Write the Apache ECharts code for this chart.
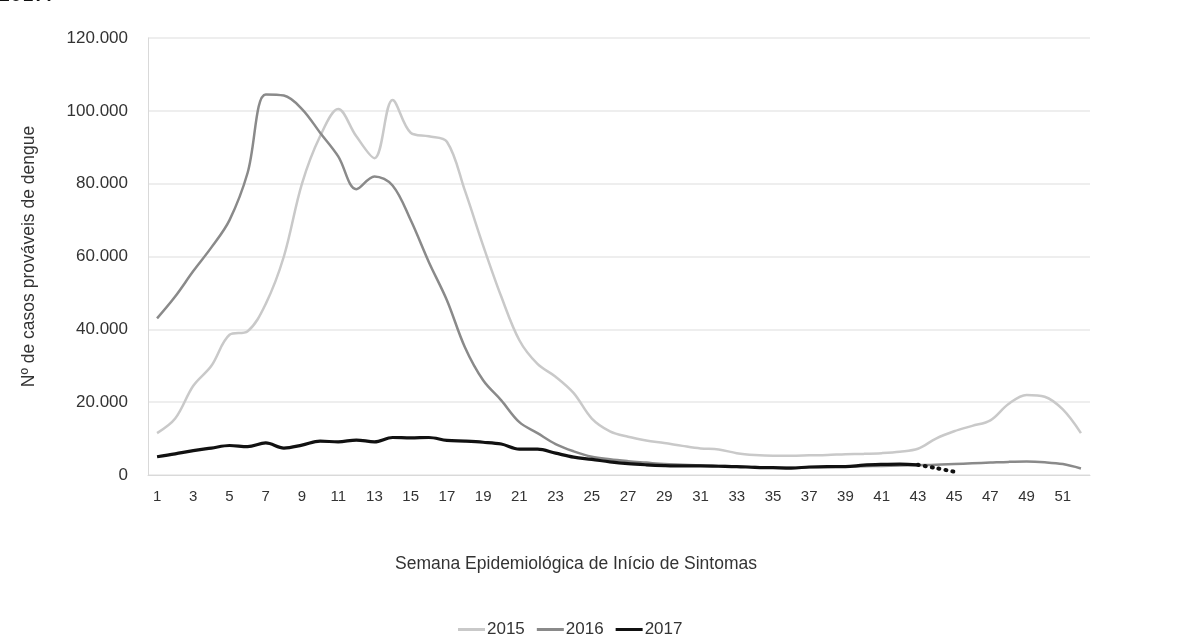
<!DOCTYPE html>
<html>
<head>
<meta charset="utf-8">
<script src="https://cdn.jsdelivr.net/npm/echarts@6/dist/echarts.min.js"></script>
<style>
html,body{margin:0;padding:0;background:#fff;}
#chart{width:1198px;height:637px;}
</style>
</head>
<body>
<div id="chart"></div>
<script>
const weeks = Array.from({length: 52}, (_, i) => String(i + 1));

const s2015 = [11500,15500,24500,30000,38500,39500,47000,60000,80000,93000,
  100500,93000,87000,103000,94000,93000,91500,78000,63000,49000,
  37000,30500,27000,22500,15500,12000,10500,9500,8800,8000,
  7300,7000,6000,5500,5300,5300,5400,5500,5700,5800,
  6000,6400,7200,10000,12000,13500,15000,19500,22000,21500,
  18000,11500];

const s2016 = [43000,49000,56000,62500,70000,83000,104500,104200,100500,94000,
  87500,78500,82000,79500,70000,58500,48000,35000,26000,20500,
  14500,11500,8500,6500,5000,4300,3800,3400,3000,2800,
  2600,2500,2400,2200,2000,2000,2100,2200,2300,2400,
  2500,2600,2700,2800,3000,3200,3400,3600,3700,3500,
  3000,1800];

const s2017 = [5000,5800,6700,7400,8100,7800,8800,7400,8200,9300,
  9100,9600,9100,10300,10200,10300,9500,9300,9000,8500,
  7100,7100,6000,4900,4300,3600,3100,2800,2600,2500,
  2500,2400,2300,2100,2000,1900,2200,2300,2300,2700,
  2900,3000,2800];

// dotted continuation of 2017 (weeks 43-45)
const s2017dot = weeks.map(() => null);
const dotPart = [[42, 2800], [43, 1900], [44, 900]];
dotPart.forEach(([i, v]) => { s2017dot[i] = v; });

const seriesNames = ['2015', '2016', '2017'];
const colors = ['#c9c9c9', '#8a8a8a', '#111111'];

const chart = echarts.init(document.getElementById('chart'), null, {renderer: 'canvas'});
const font = 'Liberation Sans, Arial, sans-serif';

chart.setOption({
  backgroundColor: '#ffffff',
  animation: false,
  textStyle: {fontFamily: font},
  graphic: [{
    type: 'text', left: -2, top: -17,
    style: {text: '2017.', font: 'bold 24px "Liberation Serif", serif', fill: '#111'}
  }],
  grid: {left: 148, right: 108, top: 38, bottom: 162, containLabel: false},
  legend: {
    data: seriesNames.map(n => ({name: n, icon: 'rect'})),
    left: 453, top: 616,
    itemWidth: 27, itemHeight: 3, itemGap: 12,
    textStyle: {fontSize: 17, color: '#333', fontFamily: font, padding: [0, 0, 0, -3]}
  },
  xAxis: {
    type: 'category',
    data: weeks,
    boundaryGap: true,
    name: 'Semana Epidemiológica de Início de Sintomas',
    nameLocation: 'middle',
    nameGap: 80,
    nameTextStyle: {fontSize: 17.5, color: '#333', fontFamily: font, padding: [0, 86, 0, 0]},
    axisLine: {lineStyle: {color: '#d9d9d9', width: 1}},
    axisTick: {show: false},
    axisLabel: {interval: 1, fontSize: 15, color: '#333', margin: 14, fontFamily: font},
    splitLine: {show: false}
  },
  yAxis: {
    type: 'value',
    min: 0, max: 120000, interval: 20000,
    name: 'Nº de casos prováveis de dengue',
    nameLocation: 'middle',
    nameGap: 110,
    nameRotate: 90,
    nameTextStyle: {fontSize: 17.5, color: '#333', fontFamily: font},
    axisLine: {show: true, lineStyle: {color: '#d9d9d9', width: 1}},
    axisTick: {show: false},
    axisLabel: {
      fontSize: 17, color: '#333', margin: 20, fontFamily: font,
      formatter: v => v === 0 ? '0' : (v / 1000).toFixed(0) + '.000'
    },
    splitLine: {lineStyle: {color: '#e8e8e8', width: 1.5}}
  },
  series: [
    {name: '2015', type: 'line', data: s2015, smooth: 0.35, showSymbol: false,
     lineStyle: {color: colors[0], width: 2.5}, itemStyle: {color: colors[0]}, z: 2},
    {name: '2016', type: 'line', data: s2016, smooth: 0.35, showSymbol: false,
     lineStyle: {color: colors[1], width: 2.5}, itemStyle: {color: colors[1]}, z: 3},
    {name: '2017', type: 'line', data: s2017, smooth: 0.35, showSymbol: false,
     lineStyle: {color: colors[2], width: 3.2}, itemStyle: {color: colors[2]}, z: 4},
    {name: '2017 (parcial)', type: 'line', data: s2017dot, smooth: 0.3, showSymbol: false,
     lineStyle: {color: colors[2], width: 4, type: [1, 6], cap: 'round'}, itemStyle: {color: colors[2]}, z: 4}
  ]
});
</script>
</body>
</html>
